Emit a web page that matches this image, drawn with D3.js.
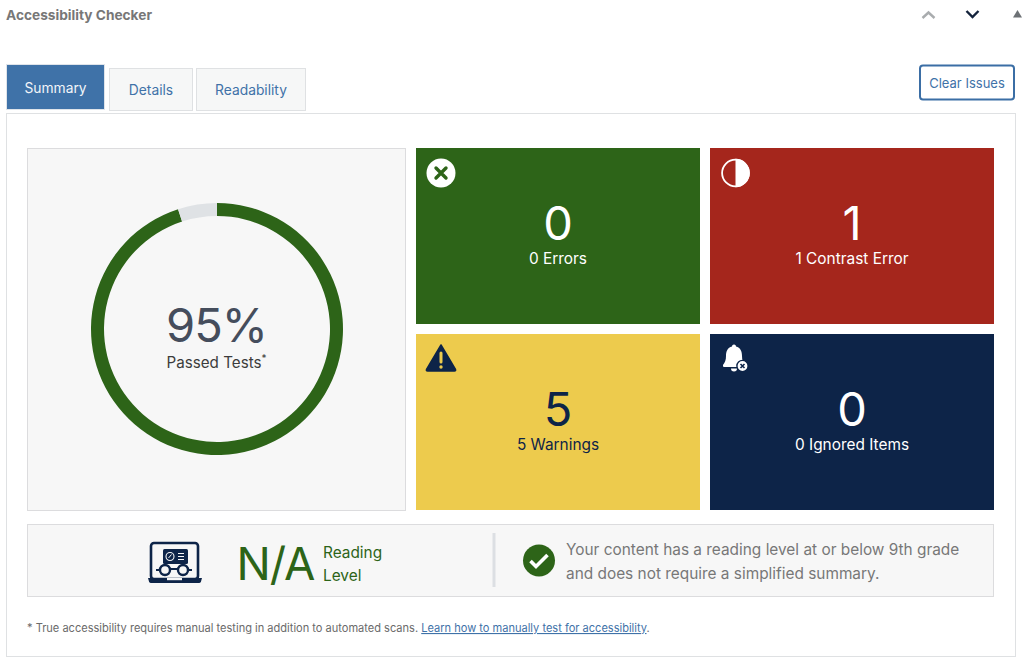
<!DOCTYPE html>
<html><head><meta charset="utf-8">
<script src="https://cdnjs.cloudflare.com/ajax/libs/d3/7.9.0/d3.min.js"></script>
<style>html,body{margin:0;padding:0;background:#fff}svg{display:block}text{font-family:Inter,"Noto Sans",sans-serif}</style>
</head><body><svg id="c" width="1024" height="664"></svg>
<script>
const tabLabels=["Summary","Details","Readability"];
const passedPercent=95;
const ringCategories=["Passed","Remaining"];
const ringValues=[95,5];
const cardCounts=[0,1,5,0];
const cardLabels=["0 Errors","1 Contrast Error","5 Warnings","0 Ignored Items"];
const footnote="* True accessibility requires manual testing in addition to automated scans. ";
const footLink="Learn how to manually test for accessibility";

const green="#2d6418",red="#a5261c",yellow="#edcb4d",navy="#0d2448",blue="#3f72a8",grey="#757575";
const svg=d3.select("#c");
function T(x,y,s,size,fill,anchor,extra){const t=svg.append("text").attr("x",x).attr("y",y).attr("font-size",size).attr("fill",fill).attr("text-anchor",anchor||"start").text(s);if(extra)for(const k in extra)t.attr(k,extra[k]);return t;}
function R(x,y,w,h,fill,stroke,sw,rx){return svg.append("rect").attr("x",x).attr("y",y).attr("width",w).attr("height",h).attr("fill",fill).attr("stroke",stroke||"none").attr("stroke-width",sw||0).attr("rx",rx||0);}

// header
T(6,19.5,"Accessibility Checker",13.7,"#777","start",{"font-weight":700});
const hdr=svg.append("g").attr("fill","none").attr("stroke-width",2.4);
hdr.append("path").attr("d","M922.5 18 L928.5 12.5 L934.5 18").attr("stroke","#a9acae");
hdr.append("path").attr("d","M966.5 11 L972.5 17 L978.5 11").attr("stroke","#14233c");
svg.append("path").attr("d","M1013 17.5 L1017.5 10 L1022 17.5 Z").attr("fill","#6d7175");

// panel
R(6.5,113.5,1009,543,"#fff","#dfe1e3",1);
// tabs
const tabX=d3.scaleOrdinal().domain(tabLabels).range([6.5,109.5,196.5]);
const tabW=d3.scaleOrdinal().domain(tabLabels).range([98,83,109]);
tabLabels.forEach((l,i)=>{
  const x=tabX(l),w=tabW(l);
  if(i===0){R(x,64.5,w,45,blue,"#dfe4ea",1);T(x+w/2,92.5,l,13.8,"#f2f5f9","middle");}
  else{R(x,68.5,w,42,"#f6f7f7","#dfe1e3",1);T(x+w/2,95,l,13.8,blue,"middle");}
});
// clear button
R(920,65.5,94,34,"#fff","#3b6ea5",2,3);
T(967,87.5,"Clear Issues",13,blue,"middle");

// ring card
R(27.5,148.5,378,362,"#f7f7f7","#dcdcde",1);
const arc=d3.arc().innerRadius(113).outerRadius(126);
const pie=d3.pie().sort(null)(ringValues);
const ring=svg.append("g").attr("transform","translate(217,329)");
ring.selectAll("path").data(pie).join("path").attr("d",arc)
  .attr("fill",(d,i)=>d3.scaleOrdinal().domain(ringCategories).range([green,"#dfe2e5"])(ringCategories[i]));
T(216.5,342,passedPercent+"%",47,"#454d5c","middle",{"letter-spacing":"-1px"});
const pt=T(216.5,368,"Passed Tests",15.2,"#3c3c3c","middle");
pt.append("tspan").attr("dy",-6).attr("font-size",10).text("*");

// status cards
const cx=d3.scaleBand().domain([0,1]).range([416,994]).paddingInner(10/294);
const cy=d3.scaleBand().domain([0,1]).range([148,510]).paddingInner(10/186);
const fills=[green,red,yellow,navy];
const fg=["#fff","#fff",navy,"#fff"];
cardCounts.forEach((v,i)=>{
  const x=cx(i%2),y=cy(i>>1),w=cx.bandwidth(),h=cy.bandwidth();
  R(x,y,w,h,fills[i]);
  T(x+w/2,y+92,v,47,fg[i],"middle");
  T(x+w/2,y+115.5,cardLabels[i],15.4,fg[i],"middle");
});
// icons
const i0=svg.append("g").attr("transform","translate(441,173)");
i0.append("circle").attr("r",14.5).attr("fill","#fff");
i0.append("path").attr("d","M-5 -5 L5 5 M5 -5 L-5 5").attr("stroke",green).attr("stroke-width",3.4).attr("stroke-linecap","round");
const i1=svg.append("g").attr("transform","translate(735.5,173)");
i1.append("circle").attr("r",13.4).attr("fill",red).attr("stroke","#fff").attr("stroke-width",1.8);
i1.append("path").attr("d","M0 -14.3 A14.3 14.3 0 0 1 0 14.3 Z").attr("fill","#fff");
const i2=svg.append("g").attr("transform","translate(441,359)");
i2.append("path").attr("d","M0 -14 L14.5 10.5 Q15 12 13.5 12 L-13.5 12 Q-15 12 -14.5 10.5 Z").attr("fill",navy).attr("stroke",navy).attr("stroke-width",1.5).attr("stroke-linejoin","round");
i2.append("path").attr("d","M0 -6 L0 3").attr("stroke",yellow).attr("stroke-width",3).attr("stroke-linecap","round");
i2.append("circle").attr("cy",8).attr("r",1.7).attr("fill",yellow);
const i3=svg.append("g").attr("transform","translate(734,358)");
i3.append("path").attr("d","M0 -13.5 C1.5 -13.5 2 -12.5 2 -11.5 C6.5 -10.5 8 -6.5 8 -2 C8 2 9 4 11 7 Q11.5 9 10 9 L-10 9 Q-11.5 9 -11 7 C-9 4 -8 2 -8 -2 C-8 -6.5 -6.5 -10.5 -2 -11.5 C-2 -12.5 -1.5 -13.5 0 -13.5 Z").attr("fill","#fff");
i3.append("path").attr("d","M-3 10.5 A3 3 0 0 0 3 10.5 Z").attr("fill","#fff");
i3.append("circle").attr("cx",8.5).attr("cy",8).attr("r",5.6).attr("fill","#fff").attr("stroke",navy).attr("stroke-width",1.4);
i3.append("path").attr("d","M6.5 6 L10.5 10 M10.5 6 L6.5 10").attr("stroke",navy).attr("stroke-width",1.6);

// reading level bar
R(27.5,524.5,966,72,"#f7f7f7","#dcdcde",1);
const lap=svg.append("g").attr("transform","translate(175,562)");
lap.append("rect").attr("x",-24).attr("y",-19).attr("width",47).attr("height",36).attr("rx",3).attr("fill","none").attr("stroke",navy).attr("stroke-width",2.6);
lap.append("path").attr("d","M-27 16 L27 16 L26 19.5 Q25.5 21 24 21 L-24 21 Q-25.5 21 -26 19.5 Z").attr("fill",navy);
lap.append("rect").attr("x",-8).attr("y",16).attr("width",15).attr("height",2.2).attr("fill","#f7f7f7");
lap.append("rect").attr("x",-12).attr("y",-13).attr("width",25).attr("height",15).attr("rx",1.5).attr("fill",navy);
lap.append("circle").attr("cx",-5).attr("cy",-5.5).attr("r",4).attr("fill","none").attr("stroke","#f7f7f7").attr("stroke-width",1.1);
lap.append("path").attr("d","M-6.5 -4 L-3.5 -7.5").attr("stroke","#f7f7f7").attr("stroke-width",1);
lap.append("path").attr("d","M3 -8.5 H9 M3 -5.5 H9 M3 -2.5 H9").attr("stroke","#f7f7f7").attr("stroke-width",1.1);
lap.selectAll("circle.g").data([-10,8]).join("circle").attr("class","g").attr("cx",d=>d).attr("cy",8).attr("r",5).attr("fill","#f7f7f7").attr("stroke",navy).attr("stroke-width",2.4);
lap.append("path").attr("d","M-19 8 H-15 M13 8 H17 M-5 7 H3").attr("stroke",navy).attr("stroke-width",2);
T(236.5,580,"N/A",45.5,green,"start",{"font-weight":400,"letter-spacing":"-1px"});
T(323,557.5,"Reading",15.4,green);
T(323,580.5,"Level",15.4,green);
svg.append("line").attr("x1",494).attr("x2",494).attr("y1",533).attr("y2",587).attr("stroke","#dcdfe3").attr("stroke-width",3);
const chk=svg.append("g").attr("transform","translate(539,560.5)");
chk.append("circle").attr("r",16).attr("fill",green);
chk.append("path").attr("d","M-8.5 0.5 L-3 6 L8.5 -5.5").attr("fill","none").attr("stroke","#fff").attr("stroke-width",3.6);
T(566,554.5,"Your content has a reading level at or below 9th grade",15.4,"#777");
T(566,578.5,"and does not require a simplified summary.",15.4,"#777");

// footnote
const f=T(27,632,footnote,11.06,"#6a6a6a");
f.append("tspan").attr("fill",blue).attr("text-decoration","underline").text(footLink);
f.append("tspan").text(".");
</script></body></html>
